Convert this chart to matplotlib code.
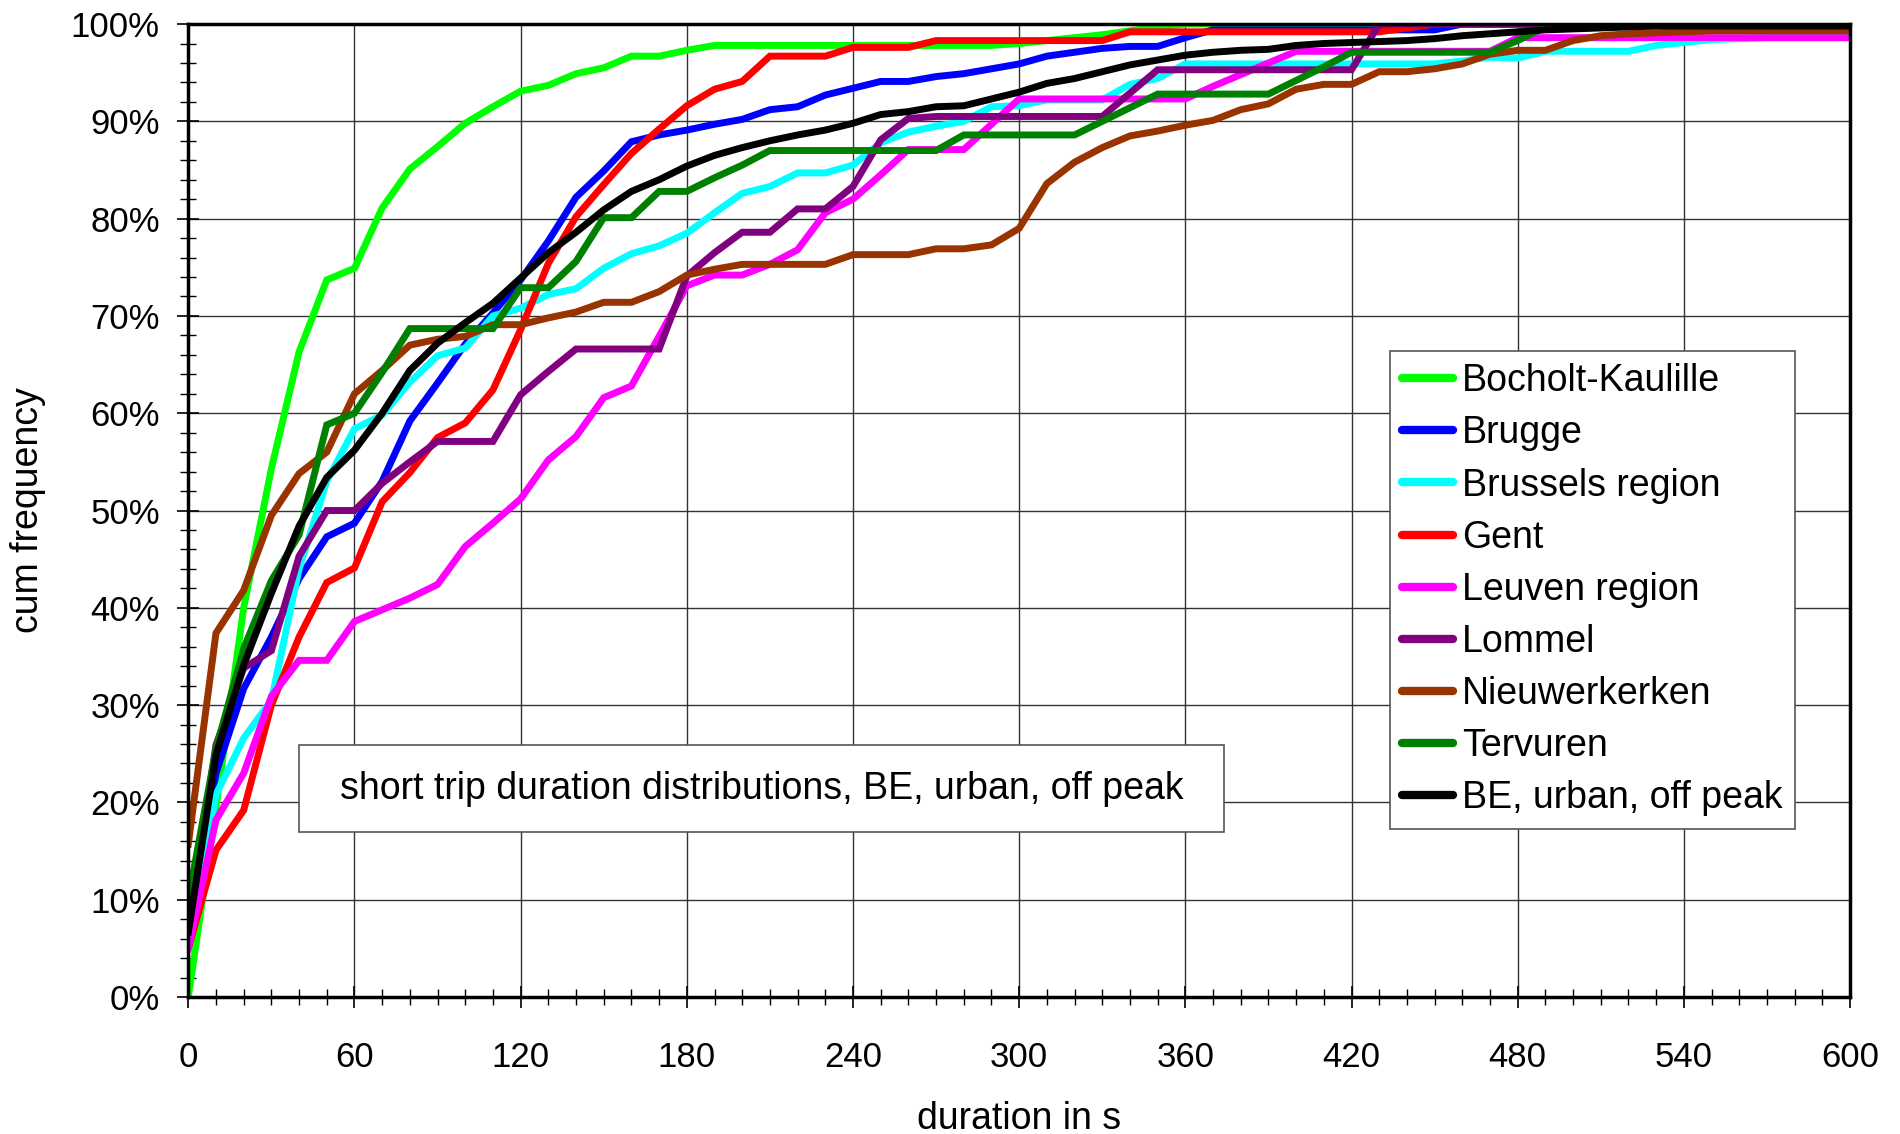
import matplotlib
matplotlib.use("Agg")
import matplotlib.pyplot as plt
from matplotlib.ticker import MultipleLocator, FuncFormatter
from matplotlib.patches import Rectangle
import numpy as np

plt.rcParams['font.family'] = ['Liberation Sans', 'DejaVu Sans']

duration_s = list(range(0, 610, 10))

bocholt_kaulille = [0, 19.5, 40.0, 54.3, 66.3, 73.7, 74.9, 81.1, 85.1, 87.4, 89.8, 91.5, 93.1, 93.7, 94.9, 95.5,
                    96.7, 96.7, 97.3, 97.8, 97.8, 97.8, 97.8, 97.8, 97.8, 97.8, 97.8, 97.8, 97.8, 97.8, 98.0,
                    98.3, 98.6, 98.9, 99.3, 99.7, 100, 100, 100, 100, 100, 100, 100, 100, 100, 100,
                    100, 100, 100, 100, 100, 100, 100, 100, 100, 100, 100, 100, 100, 100, 100]
brugge = [6.5, 23.0, 31.7, 37.0, 43.0, 47.3, 48.7, 53.0, 59.2, 63.1, 67.1, 70.3, 73.7, 77.7, 82.2, 84.9,
          87.9, 88.6, 89.1, 89.7, 90.2, 91.2, 91.5, 92.7, 93.4, 94.1, 94.1, 94.6, 94.9, 95.4, 95.9,
          96.7, 97.1, 97.5, 97.7, 97.7, 98.6, 99.4, 99.4, 99.4, 99.4, 99.4, 99.4, 99.4, 99.4, 99.4,
          100, 100, 100, 100, 100, 100, 100, 100, 100, 100, 100, 100, 100, 100, 100]
brussels_region = [5.5, 20.8, 26.6, 30.5, 44.0, 53.0, 58.4, 59.8, 63.2, 65.9, 66.7, 70.0, 70.8, 72.2, 72.8, 74.9,
                   76.4, 77.2, 78.5, 80.6, 82.6, 83.3, 84.7, 84.7, 85.5, 87.8, 88.9, 89.5, 90.0, 91.5, 91.6,
                   92.2, 92.2, 92.2, 93.8, 94.4, 95.9, 95.9, 95.9, 95.9, 95.9, 95.9, 95.9, 95.9, 95.9, 95.9,
                   96.2, 96.6, 96.5, 97.2, 97.2, 97.2, 97.2, 97.8, 98.1, 98.4, 98.5, 98.6, 98.6, 98.6, 98.6]
gent = [5.0, 15.1, 19.2, 30.0, 37.0, 42.6, 44.1, 50.9, 53.9, 57.5, 59.0, 62.4, 68.6, 75.4, 80.2, 83.5,
        86.7, 89.2, 91.6, 93.3, 94.1, 96.7, 96.7, 96.7, 97.6, 97.6, 97.6, 98.3, 98.3, 98.3, 98.3,
        98.3, 98.3, 98.3, 99.2, 99.2, 99.2, 99.2, 99.2, 99.2, 99.2, 99.2, 99.2, 99.2, 99.6, 100,
        100, 100, 100, 100, 100, 100, 100, 100, 100, 100, 100, 100, 100, 100, 100]
leuven_region = [5.0, 18.2, 23.0, 30.9, 34.6, 34.6, 38.6, 39.8, 41.0, 42.4, 46.3, 48.7, 51.2, 55.2, 57.6, 61.6,
                 62.8, 67.9, 73.1, 74.2, 74.2, 75.3, 76.8, 80.6, 82.0, 84.5, 87.1, 87.1, 87.1, 89.7, 92.3,
                 92.3, 92.3, 92.3, 92.3, 92.3, 92.3, 93.6, 94.8, 96.0, 97.2, 97.2, 97.2, 97.2, 97.2, 97.2,
                 97.2, 97.2, 98.6, 98.6, 98.6, 98.6, 98.6, 98.6, 98.6, 98.6, 98.6, 98.6, 98.6, 98.6, 98.6]
lommel = [6.7, 25.9, 33.8, 35.6, 45.3, 50.0, 50.0, 52.8, 55.0, 57.1, 57.1, 57.1, 61.9, 64.3, 66.6, 66.6,
          66.6, 66.6, 74.1, 76.5, 78.6, 78.6, 81.0, 81.0, 83.3, 88.1, 90.3, 90.5, 90.5, 90.5, 90.5,
          90.5, 90.5, 90.5, 92.9, 95.3, 95.3, 95.3, 95.3, 95.3, 95.3, 95.3, 95.3, 100, 100, 100,
          100, 100, 100, 100, 100, 100, 100, 100, 100, 100, 100, 100, 100, 100, 100]
nieuwerkerken = [15.7, 37.4, 41.8, 49.5, 53.8, 56.0, 62.0, 64.4, 67.0, 67.6, 67.9, 69.1, 69.1, 69.8, 70.4, 71.4,
                 71.4, 72.5, 74.2, 74.8, 75.3, 75.3, 75.3, 75.3, 76.3, 76.3, 76.3, 76.9, 76.9, 77.3, 79.0,
                 83.6, 85.8, 87.3, 88.5, 89.0, 89.6, 90.1, 91.2, 91.8, 93.3, 93.8, 93.8, 95.1, 95.1, 95.4,
                 95.9, 96.9, 97.3, 97.3, 98.3, 98.8, 99.0, 99.1, 99.2, 99.3, 99.3, 99.3, 99.3, 99.3, 99.3]
tervuren = [10.0, 25.5, 35.8, 42.8, 47.5, 58.8, 60.0, 64.2, 68.7, 68.7, 68.7, 68.7, 72.9, 72.9, 75.6, 80.1,
            80.1, 82.8, 82.8, 84.2, 85.5, 87.0, 87.0, 87.0, 87.0, 87.0, 87.0, 87.0, 88.6, 88.6, 88.6,
            88.6, 88.6, 90.0, 91.4, 92.8, 92.8, 92.8, 92.8, 92.8, 94.2, 95.6, 97.1, 97.1, 97.1, 97.1,
            97.1, 97.1, 98.3, 99.7, 100, 100, 100, 100, 100, 100, 100, 100, 100, 100, 100]
be_urban_off_peak = [6.7, 24.9, 34.1, 41.5, 48.4, 53.4, 56.2, 60.0, 64.4, 67.2, 69.3, 71.3, 73.9, 76.5, 78.6, 80.9,
                     82.8, 84.0, 85.4, 86.5, 87.3, 88.0, 88.6, 89.1, 89.8, 90.7, 91.0, 91.5, 91.6, 92.3, 93.0,
                     93.9, 94.4, 95.1, 95.8, 96.3, 96.8, 97.1, 97.3, 97.4, 97.8, 98.0, 98.1, 98.2, 98.3, 98.5,
                     98.8, 99.0, 99.2, 99.4, 99.5, 99.6, 99.7, 99.8, 99.8, 99.8, 99.8, 99.8, 99.8, 99.8, 99.8]

series_names = ["Bocholt-Kaulille", "Brugge", "Brussels region", "Gent", "Leuven region",
                "Lommel", "Nieuwerkerken", "Tervuren", "BE, urban, off peak"]
series_values = [bocholt_kaulille, brugge, brussels_region, gent, leuven_region,
                 lommel, nieuwerkerken, tervuren, be_urban_off_peak]
series_colors = ["#00FF00", "#0000FF", "#00FFFF", "#FF0000", "#FF00FF",
                 "#800080", "#993300", "#008000", "#000000"]

x_ticks = list(range(0, 601, 60))
title_text = "short trip duration distributions, BE, urban, off peak"

fig = plt.figure(figsize=(19.0, 11.34), dpi=100)
ax = fig.add_axes([0.0991, 0.1208, 0.8746, 0.858])

for name, vals, col in zip(series_names, series_values, series_colors):
    ax.plot(duration_s, np.array(vals) / 100.0, color=col, lw=5.0, label=name,
            solid_joinstyle='miter', zorder=3)

ax.set_xlim(0, 600)
ax.set_ylim(0, 1.0)
ax.set_xticks(x_ticks)
ax.xaxis.set_minor_locator(MultipleLocator(10))
ax.yaxis.set_major_locator(MultipleLocator(0.1))
ax.yaxis.set_minor_locator(MultipleLocator(0.02))
ax.yaxis.set_major_formatter(FuncFormatter(lambda v, p: f"{v*100:.0f}%"))

ax.grid(True, which='major', color='#333333', lw=1.0, zorder=1)
ax.tick_params(which='major', direction='inout', length=16, width=1.2, labelsize=25,
               colors='black')
ax.tick_params(which='minor', direction='inout', length=12, width=1.0)
ax.tick_params(axis='x', which='major', pad=24)
ax.tick_params(axis='y', which='major', pad=12.5)
for s in ax.spines.values():
    s.set_linewidth(2.5)
    s.set_color('black')
    s.set_zorder(4)

ax.set_xlabel("duration in s", fontsize=27, labelpad=19)
ax.set_ylabel("cum frequency", fontsize=27, labelpad=18)

# annotation box (axes-fraction frame) with centred text
ax.add_patch(Rectangle((0.0666, 0.1696), 0.5566, 0.0894, transform=ax.transAxes,
                       facecolor='white', edgecolor='#555555', lw=1.2, zorder=5))
ax.text(0.0666 + 0.5566 / 2, 0.1696 + 0.0894 / 2, title_text, fontsize=27,
        ha='center', va='center', transform=ax.transAxes, zorder=6)

leg = ax.legend(loc='upper left', bbox_to_anchor=(0.723, 0.664), borderaxespad=0,
                fontsize=27, frameon=True, fancybox=False, framealpha=1,
                edgecolor='#555555', handlelength=1.35, handletextpad=0.25,
                labelspacing=0.43, borderpad=0.33)
leg.get_frame().set_linewidth(1.2)
leg.set_zorder(7)
for h in leg.get_lines():
    h.set_linewidth(6)
    h.set_solid_capstyle('round')

fig.savefig("out.png", dpi=100)
